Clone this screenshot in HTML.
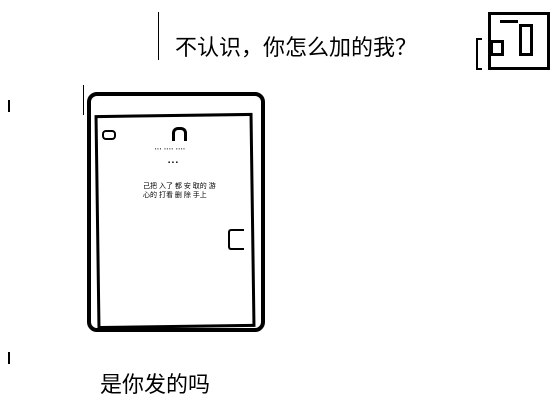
<!DOCTYPE html>
<html><head><meta charset="utf-8"><style>
body{margin:0;width:555px;height:419px;background:#fff;position:relative;overflow:hidden;font-family:"Liberation Sans","Noto Sans CJK SC",sans-serif}
.a{position:absolute}
</style></head><body>
<div class="a" style="left:158px;top:12px;width:1px;height:48px;background:#000"></div>
<div class="a" style="left:175px;top:30px;font-size:22px;color:#000;white-space:nowrap">不认识，你怎么加的我？</div>
<!-- avatar -->
<div class="a" style="left:488px;top:12px;width:56px;height:52px;border:3px solid #000"></div>
<div class="a" style="left:519px;top:24px;width:8px;height:26px;border:3px solid #000"></div>
<div class="a" style="left:490px;top:40px;width:8px;height:10px;border:3px solid #000"></div>
<div class="a" style="left:476px;top:38px;width:4px;height:28px;border:2px solid #000;border-right:none"></div>
<div class="a" style="left:500px;top:20px;width:18px;height:3px;background:#000"></div>
<!-- phone -->
<div class="a" style="left:8px;top:100px;width:2px;height:12px;background:#000"></div>
<div class="a" style="left:83px;top:85px;width:1px;height:30px;background:#000"></div>
<div class="a" style="left:87px;top:92px;width:170px;height:232px;border:4px solid #000;border-radius:10px"></div>
<div class="a" style="left:96px;top:114px;width:152px;height:208px;border:3px solid #000;transform:rotate(-0.8deg)"></div>
<div class="a" style="left:102px;top:130px;width:10px;height:6px;border:2px solid #000;border-radius:4px"></div>
<div class="a" style="left:172px;top:127px;width:9px;height:11px;border:3px solid #000;border-bottom:none;border-radius:6px 6px 0 0"></div>
<div class="a" style="left:155px;top:146px;font-size:4px;letter-spacing:1px">▪▪▪ ▪▪▪▪ ▪▪▪▪</div>
<div class="a" style="left:168px;top:160px;font-size:6px">▪ ▪ ▪</div>
<div class="a" style="left:143px;top:182px;font-size:7px;line-height:9px;white-space:nowrap">己把 入了 都 安 取的 游<br>心的 打看 删 除 手上</div>
<div class="a" style="left:228px;top:229px;width:14px;height:17px;border:2px solid #000;border-radius:3px 0 0 3px;border-right:none"></div>
<div class="a" style="left:8px;top:352px;width:2px;height:12px;background:#000"></div>
<div class="a" style="left:100px;top:367px;font-size:22px;color:#000;white-space:nowrap">是你发的吗</div>
</body></html>
